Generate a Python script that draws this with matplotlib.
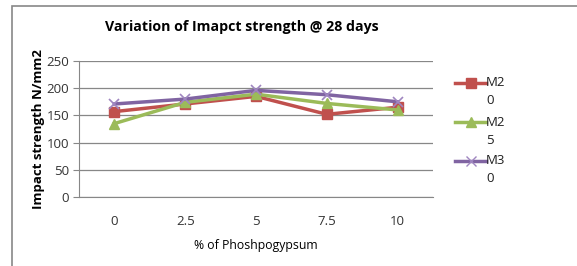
import matplotlib.pyplot as plt
from matplotlib.patches import Rectangle
from matplotlib.lines import Line2D

# data
categories = ['0', '2.5', '5', '7.5', '10']
m20 = [157, 171, 185, 152, 165]
m25 = [135, 174, 189, 172, 160]
m30 = [171, 180, 196, 188, 175]
series_names = ['M2\n0', 'M2\n5', 'M3\n0']
yticks = [0, 50, 100, 150, 200, 250]

colors = ['#C0504D', '#9BBB59', '#8064A2']
markers = ['s', '^', 'x']

plt.rcParams['font.family'] = ['Open Sans', 'DejaVu Sans']

fig = plt.figure(figsize=(5.77, 2.66), dpi=100)

# outer chart frame
fig.patches.append(Rectangle((12 / 577, -0.2), 1.1, 1.2 - 6 / 266,
                             transform=fig.transFigure, fill=False,
                             edgecolor='#878787', linewidth=1.2))

ax = fig.add_axes([79 / 577, 1 - 197 / 266, 354 / 577, 136 / 266])

x = list(range(len(categories)))
for vals, c, m in zip([m20, m25, m30], colors, markers):
    ax.plot(x, vals, color=c, linewidth=2.5, marker=m,
            markersize=6.5 if m != 'x' else 7.5, markeredgewidth=1 if m != 'x' else 1.2,
            markeredgecolor=c if m != 'x' else '#9F86C0')

ax.set_xlim(-0.5, len(categories) - 0.5)
ax.set_ylim(0, 250)
ax.set_yticks(yticks)
ax.set_xticks(x)
ax.set_xticklabels(categories)
ax.grid(axis='y', color='#878787', linewidth=0.9)
ax.set_axisbelow(True)
for s in ['top', 'right']:
    ax.spines[s].set_visible(False)
ax.spines['left'].set_color('#878787')
ax.spines['bottom'].set_color('#878787')
ax.tick_params(axis='y', length=4, color='#878787', labelsize=9.5, labelcolor='#333333', pad=3)
ax.tick_params(axis='x', length=0, labelsize=9.5, labelcolor='#333333', pad=13)

ax.set_ylabel('Impact strength N/mm2', fontsize=9.5, fontweight='bold', labelpad=1)
ax.set_xlabel('% of Phoshpogypsum', fontsize=8.8, labelpad=8)
fig.text(242 / 577, 1 - 27 / 266, 'Variation of Imapct strength @ 28 days',
         ha='center', va='center', fontsize=10.2, fontweight='bold')

# legend on the right, drawn by hand to keep the wrapped labels
for i, (name, c, m) in enumerate(zip(series_names, colors, markers)):
    y = 1 - (83 + i * 39) / 266
    fig.lines.append(Line2D([455 / 577, 486 / 577], [y, y], transform=fig.transFigure,
                            color=c, linewidth=2.5))
    fig.lines.append(Line2D([471 / 577], [y], transform=fig.transFigure, color=c,
                            marker=m, markersize=6.5 if m != 'x' else 7.5,
                            markeredgecolor=c if m != 'x' else '#9F86C0'))
    first, second = name.split('\n')
    fig.text(486 / 577, y, first, va='center', ha='left', fontsize=9.5, color='#202020')
    fig.text(486 / 577, y - 18 / 266, second, va='center', ha='left', fontsize=9.5, color='#202020')

fig.savefig('out.png', dpi=100)
